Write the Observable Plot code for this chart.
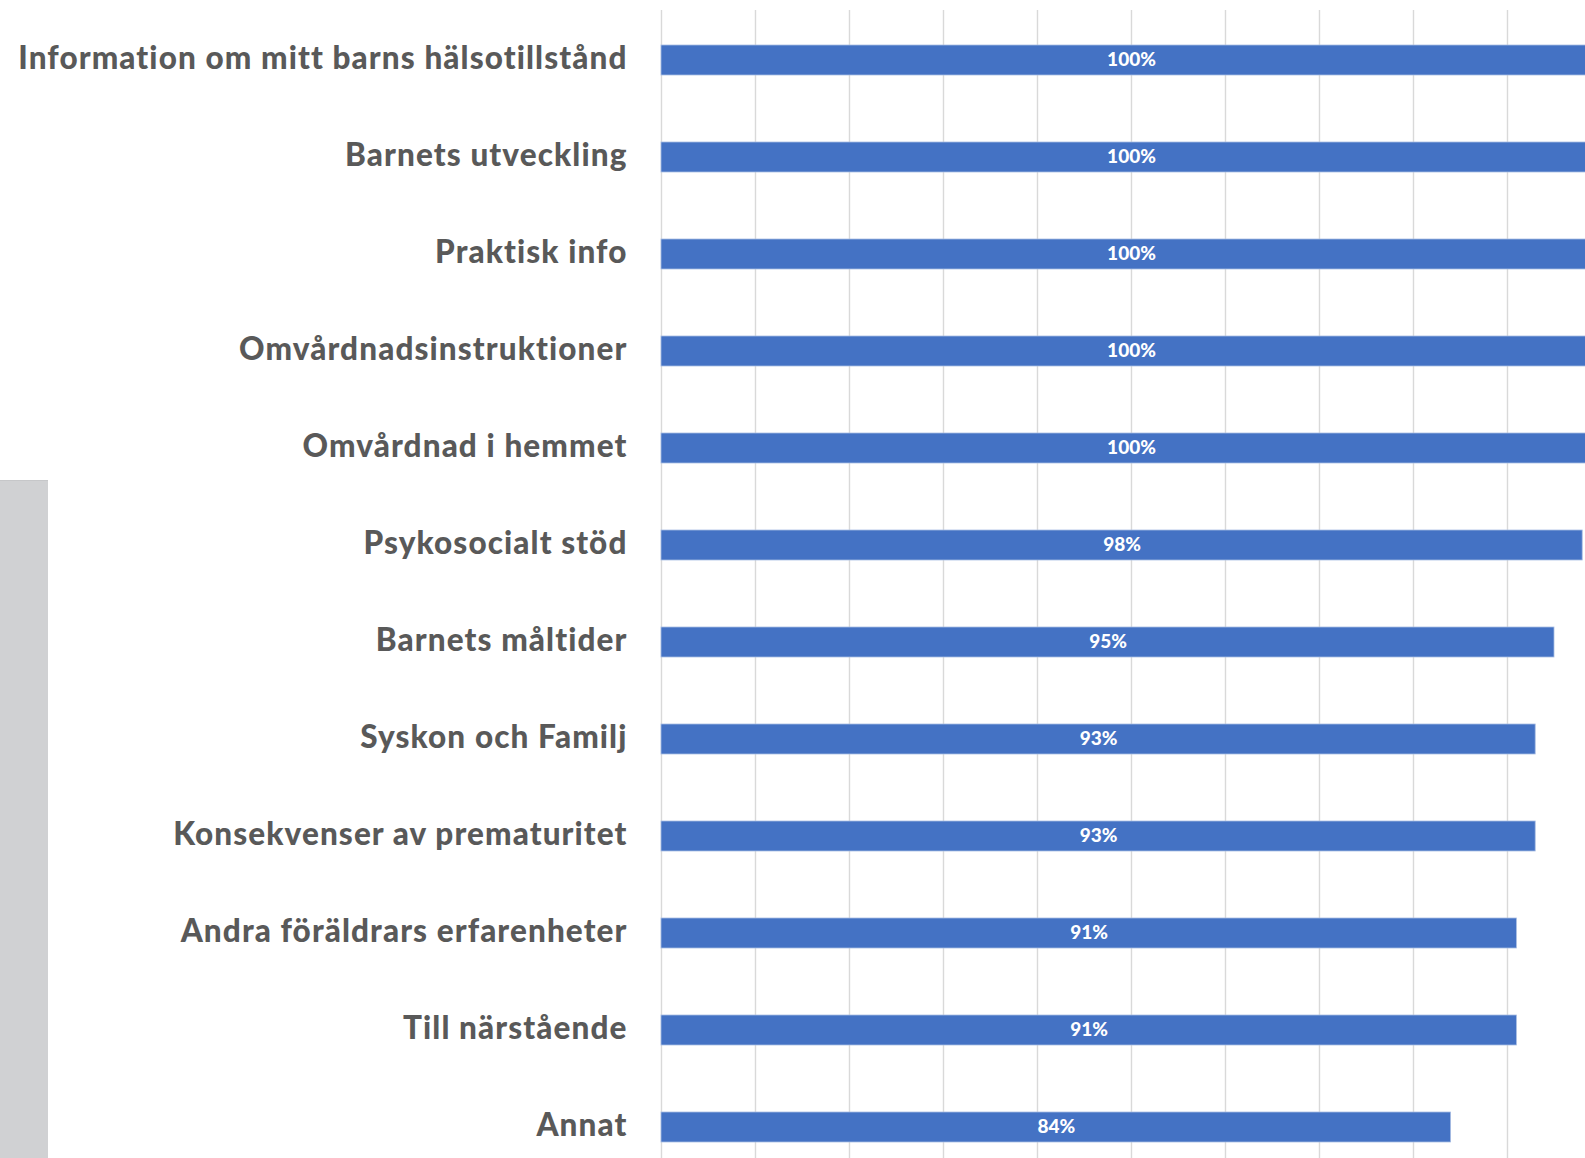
<!DOCTYPE html>
<html>
<head>
<meta charset="utf-8">
<script src="https://cdn.jsdelivr.net/npm/d3@7"></script>
<script src="https://cdn.jsdelivr.net/npm/@observablehq/plot@0.6"></script>
<style>
  html, body { margin: 0; padding: 0; background: #fff; overflow: hidden; }
  #wrap { position: relative; width: 1585px; height: 1158px; overflow: hidden; }
  #wrap svg { max-width: none; display: block; }
  #sidebar { position: absolute; left: 0; top: 480px; width: 48px; height: 678px;
             background: #d0d1d3; border-top: 1px solid #c6c7c9; box-sizing: border-box; }
</style>
</head>
<body>
<div id="wrap"></div>
<script>
const categories = [
  "Information om mitt barns hälsotillstånd",
  "Barnets utveckling",
  "Praktisk info",
  "Omvårdnadsinstruktioner",
  "Omvårdnad i hemmet",
  "Psykosocialt stöd",
  "Barnets måltider",
  "Syskon och Familj",
  "Konsekvenser av prematuritet",
  "Andra föräldrars erfarenheter",
  "Till närstående",
  "Annat"
];
const values = [100, 100, 100, 100, 100, 98, 95, 93, 93, 91, 91, 84];
const gridTicks = [0, 0.1, 0.2, 0.3, 0.4, 0.5, 0.6, 0.7, 0.8, 0.9, 1.0];

const data = categories.map((c, i) => ({category: c, share: values[i] / 100, label: values[i] + "%"}));

const chart = Plot.plot({
  width: 1585,
  height: 1158,
  marginLeft: 661,
  marginRight: 0,
  marginTop: 10,
  marginBottom: 0,
  style: {fontFamily: "Lato, 'Open Sans', sans-serif", background: "#fff"},
  x: {domain: [0, 1], range: [661, 1601], axis: null},
  y: {domain: categories, range: [8.95, 1178.95], paddingInner: 0.689, paddingOuter: 0.3445, axis: null},
  marks: [
    Plot.gridX(gridTicks, {stroke: "#d9d9d9", strokeOpacity: 1, strokeWidth: 1.4}),
    Plot.barX(data, {x: "share", y: "category", fill: "#4472C4", stroke: "#a9bde3", strokeWidth: 0.8}),
    Plot.text(data, {x: d => d.share / 2, y: "category", text: "label", fill: "#fff",
                     fontSize: 19, fontWeight: 900, style: "letter-spacing:0.5px", dy: -0.5}),
    Plot.axisY({tickSize: 0, tickPadding: 34, fontSize: 31.5, fontWeight: 900,
                color: "#595959", textAnchor: "end", label: null, dy: -1.5})
  ]
});
chart.querySelectorAll("g[aria-label='y-axis tick label'] text").forEach(t => t.style.letterSpacing = "1.1px");
document.getElementById("wrap").appendChild(chart);
const side = document.createElement("div");
side.id = "sidebar";
document.getElementById("wrap").appendChild(side);
</script>
</body>
</html>
